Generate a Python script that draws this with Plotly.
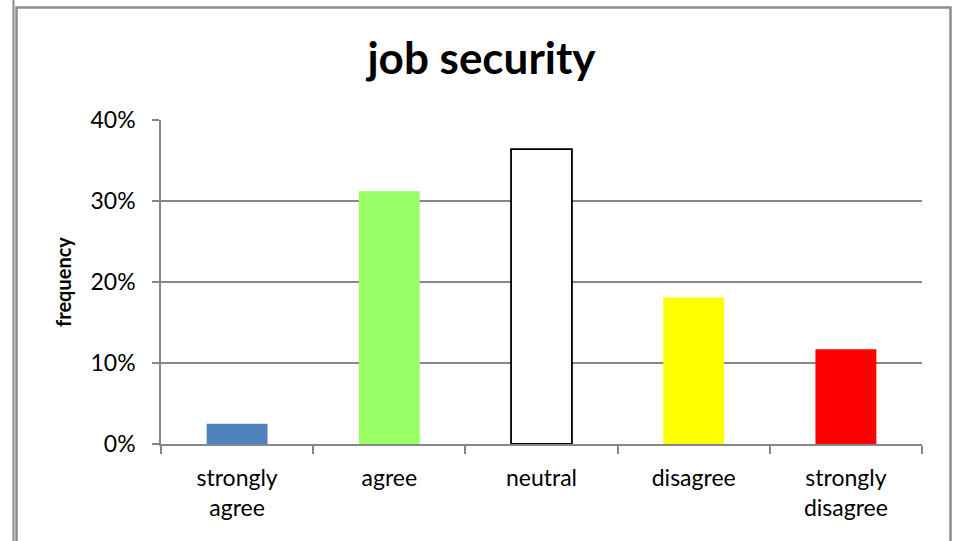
import plotly.graph_objects as go

# Survey responses on job security
categories = ["strongly<br>agree", "agree", "neutral", "disagree", "strongly<br>disagree"]
share = [0.025, 0.312, 0.364, 0.181, 0.117]
bar_colors = ["#4F81BD", "#99FF66", "#FFFFFF", "#FFFF00", "#FF0000"]
bar_edges = ["#4F81BD", "#99FF66", "#000000", "#FFFF00", "#FF0000"]
edge_widths = [0, 0, 1.8, 0, 0]
y_ticks = [0, 0.1, 0.2, 0.3, 0.4]
y_labels = ["0%", "10%", "20%", "30%", "40%"]

W, H = 963, 541
L, R, T, B = 161, 41, 120, 97

fig = go.Figure(
    go.Bar(
        x=categories,
        y=share,
        width=0.4,
        marker=dict(color=bar_colors, line=dict(color=bar_edges, width=edge_widths)),
    )
)

axis_grey = "#868686"
font_main = "Lato, Open Sans, Liberation Sans, sans-serif"


def px_x(p):
    return (p - L) / (W - L - R)


def px_y(p):
    return 1 - (p - T) / (H - T - B)


fig.update_layout(
    width=W,
    height=H,
    margin=dict(l=L, r=R, t=T, b=B),
    paper_bgcolor="white",
    plot_bgcolor="white",
    showlegend=False,
    font=dict(family=font_main, color="#000000", size=23),
    title=dict(
        text="<b>job security</b>",
        x=0.5,
        xanchor="center",
        y=1 - 59 / H,
        yanchor="middle",
        font=dict(size=44, family=font_main),
    ),
    xaxis=dict(
        tickson="boundaries",
        ticks="outside",
        ticklen=8,
        tickwidth=1.5,
        tickcolor=axis_grey,
        showline=True,
        linecolor=axis_grey,
        linewidth=1.5,
        showgrid=False,
        tickfont=dict(size=23),
        ticklabelstandoff=13,
    ),
    yaxis=dict(
        range=[0, 0.4],
        tickvals=y_ticks,
        ticktext=y_labels,
        ticks="outside",
        ticklen=7,
        tickwidth=1.5,
        tickcolor=axis_grey,
        showline=True,
        linecolor=axis_grey,
        linewidth=1.5,
        showgrid=True,
        gridcolor=axis_grey,
        gridwidth=1.5,
        zeroline=False,
        tickfont=dict(size=23),
        ticklabelstandoff=12,
        title=dict(text="<b>frequency</b>", font=dict(size=20), standoff=14),
    ),
    shapes=[
        # chart frame
        dict(
            type="rect", xref="paper", yref="paper",
            x0=px_x(16.5), x1=px_x(950.5), y0=px_y(560), y1=px_y(7.5),
            line=dict(color="#8C8C8C", width=2.5),
        ),
        # outer edge line on the left
        dict(
            type="line", xref="paper", yref="paper",
            x0=px_x(13.5), x1=px_x(13.5), y0=px_y(560), y1=px_y(0),
            line=dict(color="#8C8C8C", width=2),
        ),
    ],
)

fig.write_html("out.html")
